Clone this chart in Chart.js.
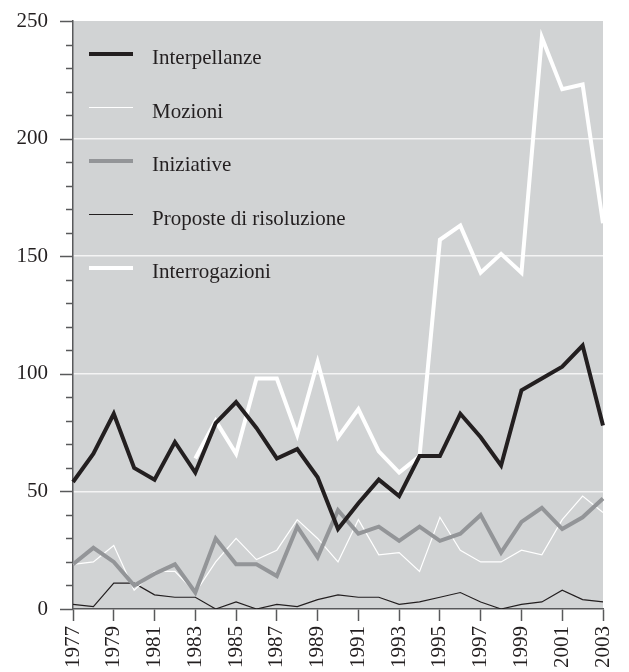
<!DOCTYPE html>
<html>
<head>
<meta charset="utf-8">
<script src="https://cdn.jsdelivr.net/npm/chart.js@4/dist/chart.umd.min.js"></script>
<style>
  html, body { margin: 0; padding: 0; background: #ffffff; }
  #wrap { width: 629px; height: 672px; }
</style>
</head>
<body>
<div id="wrap"><canvas id="c" width="629" height="672"></canvas></div>
<script>
const years = ['1977','1978','1979','1980','1981','1982','1983','1984','1985','1986','1987','1988','1989','1990','1991','1992','1993','1994','1995','1996','1997','1998','1999','2000','2001','2002','2003'];
const interpellanze = [54, 66, 83, 60, 55, 71, 58, 79, 88, 77, 64, 68, 56, 34, 45, 55, 48, 65, 65, 83, 73, 61, 93, 98, 103, 112, 78];
const mozioni = [19, 20, 27, 8, 16, 16, 7, 20, 30, 21, 25, 38, 30, 20, 38, 23, 24, 16, 39, 25, 20, 20, 25, 23, 38, 48, 41];
const iniziative = [19, 26, 20, 10, 15, 19, 7, 30, 19, 19, 14, 35, 22, 42, 32, 35, 29, 35, 29, 32, 40, 24, 37, 43, 34, 39, 47];
const proposte = [2, 1, 11, 11, 6, 5, 5, 0, 3, 0, 2, 1, 4, 6, 5, 5, 2, 3, 5, 7, 3, 0, 2, 3, 8, 4, 3];
const interrogazioni = [null, null, null, null, null, null, 64, 80, 66, 98, 98, 74, 105, 73, 85, 67, 58, 65, 157, 163, 143, 151, 143, 243, 221, 223, 164];
const yTickLabels = [0, 50, 100, 150, 200, 250];

const BG = '#d1d3d4';
const AXIS = '#58595b';
const BLACK = '#231f20';
const GRAY = '#939598';
const FONT = "'Liberation Serif', 'Times New Roman', serif";

const bgPlugin = {
  id: 'bg',
  beforeDraw(chart) {
    const a = chart.chartArea, ctx = chart.ctx;
    ctx.save();
    ctx.fillStyle = BG;
    ctx.fillRect(a.left, a.top, a.right - a.left, a.bottom - a.top);
    ctx.restore();
  }
};

const yTicksPlugin = {
  id: 'yticks',
  afterDraw(chart) {
    const y = chart.scales.y, ctx = chart.ctx, left = chart.chartArea.left;
    ctx.save();
    ctx.strokeStyle = AXIS;
    ctx.lineWidth = 1.5;
    for (let v = 0; v <= 250; v += 10) {
      const py = Math.round(y.getPixelForValue(v)) + 0.5;
      const len = (v % 50 === 0) ? 13 : 7;
      ctx.beginPath();
      ctx.moveTo(left - len, py);
      ctx.lineTo(left, py);
      ctx.stroke();
    }
    ctx.restore();
  }
};

const legendPlugin = {
  id: 'customLegend',
  afterDraw(chart) {
    const ctx = chart.ctx;
    const items = chart.data.datasets;
    ctx.save();
    ctx.font = "21px " + FONT;
    ctx.textBaseline = 'alphabetic';
    const startY = 54, step = 53.5;
    items.forEach((ds, i) => {
      const yy = startY + i * step;
      ctx.strokeStyle = ds.borderColor;
      ctx.lineWidth = ds.borderWidth;
      ctx.lineCap = 'butt';
      ctx.beginPath();
      ctx.moveTo(89, yy);
      ctx.lineTo(133, yy);
      ctx.stroke();
      ctx.fillStyle = BLACK;
      ctx.fillText(ds.label, 152, yy + 10);
    });
    ctx.restore();
  }
};

const mk = (label, data, color, width, order) => ({
  label, data, borderColor: color, backgroundColor: color, borderWidth: width,
  pointRadius: 0, pointHoverRadius: 0, tension: 0, fill: false, order,
  borderJoinStyle: 'miter', spanGaps: false
});

new Chart(document.getElementById('c'), {
  type: 'line',
  data: {
    labels: years,
    datasets: [
      mk('Interpellanze', interpellanze, BLACK, 4, 0),
      mk('Mozioni', mozioni, '#ffffff', 1.2, 3),
      mk('Iniziative', iniziative, GRAY, 4, 1),
      mk('Proposte di risoluzione', proposte, BLACK, 1.2, 4),
      mk('Interrogazioni', interrogazioni, '#ffffff', 4, 2)
    ]
  },
  options: {
    responsive: false,
    animation: false,
    events: [],
    layout: { padding: { top: 21, right: 26, left: 0, bottom: 0 } },
    plugins: { legend: { display: false }, tooltip: { enabled: false }, title: { display: false } },
    scales: {
      x: {
        type: 'category',
        offset: false,
        afterFit(s) { s.height = 63; s.paddingLeft = 0; s.paddingRight = 0; },
        border: { display: true, color: AXIS, width: 1.5 },
        grid: {
          drawOnChartArea: false,
          drawTicks: true,
          tickLength: 12,
          tickWidth: 1.5,
          color: AXIS,
          tickColor: (c) => (c.index % 2 === 0 ? AXIS : 'rgba(0,0,0,0)')
        },
        ticks: {
          autoSkip: false,
          maxRotation: 90,
          minRotation: 90,
          padding: 5,
          color: BLACK,
          font: { family: FONT, size: 21 },
          callback: (v, i) => (i % 2 === 0 ? years[i] : '')
        }
      },
      y: {
        min: 0,
        max: 250,
        afterFit(s) { s.width = 73; s.paddingTop = 0; s.paddingBottom = 0; },
        border: { display: true, color: AXIS, width: 1.5 },
        grid: {
          drawTicks: false,
          lineWidth: 1.5,
          color: (c) => (c.tick && c.tick.value > 0 && c.tick.value < 250 && c.tick.value % 50 === 0 ? '#f4f4f4' : 'rgba(0,0,0,0)')
        },
        ticks: {
          stepSize: 10,
          autoSkip: false,
          padding: 25,
          color: BLACK,
          font: { family: FONT, size: 21 },
          callback: (v) => (yTickLabels.includes(v) ? String(v) : '')
        }
      }
    }
  },
  plugins: [bgPlugin, yTicksPlugin, legendPlugin]
});
</script>
</body>
</html>
